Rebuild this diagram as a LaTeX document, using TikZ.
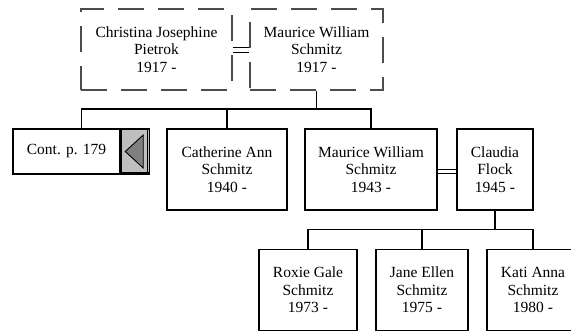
\documentclass[tikz,border=0pt]{standalone}
\usepackage{fontspec}
\setmainfont{Liberation Serif}
\usetikzlibrary{calc}
\tikzset{
  txt/.style={font=\fontsize{15.5}{17.5}\selectfont, align=center, inner sep=0pt},
  person/.style={txt, draw=black, line width=1.5pt, minimum height=81pt},
  spouse/.style={txt, draw=black!70, line width=1.1pt, dash pattern=on 26pt off 14pt, minimum height=81pt},
  link/.style={draw=black, line width=1.3pt},
  marriage/.style={draw=black, line width=1pt}
}
\begin{document}
\begin{tikzpicture}[x=1pt,y=-1pt]
\clip (0,0) rectangle (571,330);
\fill[white] (0,0) rectangle (571,330);
% generation 1
\node[spouse, minimum width=151pt] (cj) at (156.5,49.5) {Christina Josephine\\Pietrok\\1917 -};
\node[spouse, minimum width=133pt] (mw) at (316.5,49.5) {Maurice William\\Schmitz\\1917 -};
\draw[marriage] ([yshift=2.5pt]cj.east) -- ([yshift=2.5pt]mw.west);
\draw[marriage] ([yshift=-2.5pt]cj.east) -- ([yshift=-2.5pt]mw.west);
% generation 2
\node[person, minimum width=107pt, minimum height=45pt] (cont) at (66.5,151.5) {Cont. p. 179};
\node[draw=black, line width=1.5pt, fill=black!25, minimum width=28pt, minimum height=45pt, inner sep=0pt, anchor=west] (btn) at (cont.east) {};
\draw[black, line width=0.8pt] ([xshift=-3pt,yshift=1.5pt]btn.south east) -- ([xshift=-3pt,yshift=-1.5pt]btn.north east);
\draw[black, line width=0.8pt] ([xshift=1.5pt,yshift=2.5pt]btn.south west) -- ([xshift=-1.5pt,yshift=2.5pt]btn.south east);
\draw[fill=black!50, line width=0.9pt] ([xshift=-25pt]btn.east) -- ([xshift=-7pt,yshift=16.5pt]btn.east) -- ([xshift=-7pt,yshift=-16.5pt]btn.east) -- cycle;
\coordinate (conttop) at ($(cont.north west)!0.5!(btn.north east)$);
\node[person, minimum width=120pt] (cath) at (227,169.5) {Catherine Ann\\Schmitz\\1940 -};
\node[person, minimum width=132pt] (maur) at (371,169.5) {Maurice William\\Schmitz\\1943 -};
\node[person, minimum width=76pt] (clau) at (495,169.5) {Claudia\\Flock\\1945 -};
\draw[marriage] ([yshift=0.5pt]maur.east) -- ([yshift=0.5pt]clau.west);
\draw[marriage] ([yshift=-3.5pt]maur.east) -- ([yshift=-3.5pt]clau.west);
\coordinate (j1) at (316.5,109);
\draw[link] (mw.south) -- (j1);
\draw[link] (conttop) |- (maur.north |- j1) -- (maur.north);
\draw[link] (cath.north) -- (cath.north |- j1);
% generation 3
\node[person, minimum width=98pt] (roxie) at (308,290) {Roxie Gale\\Schmitz\\1973 -};
\node[person, minimum width=92pt] (jane) at (422,290) {Jane Ellen\\Schmitz\\1975 -};
\node[person, minimum width=92pt] (kati) at (533,290) {Kati Anna\\Schmitz\\1980 -};
\coordinate (j2) at (495,229.5);
\draw[link] (clau.south) -- (j2);
\draw[link] (roxie.north) |- (kati.north |- j2) -- (kati.north);
\draw[link] (jane.north) -- (jane.north |- j2);
\end{tikzpicture}
\end{document}
